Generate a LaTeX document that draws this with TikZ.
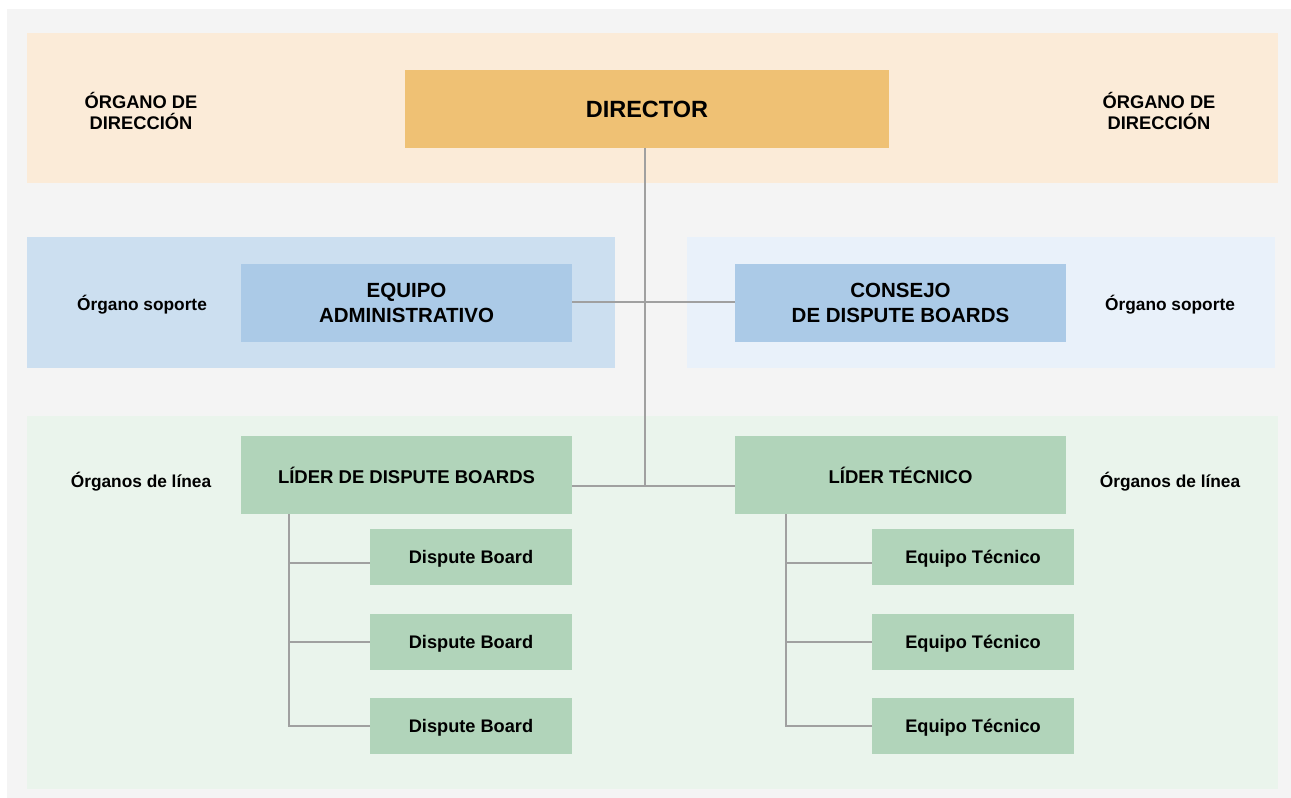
\documentclass[tikz,border=0pt]{standalone}
\usepackage{fontspec}
\setmainfont{Liberation Sans}
\definecolor{pagebg}{HTML}{F4F4F4}
\definecolor{bandorange}{HTML}{FBEBD8}
\definecolor{boxorange}{HTML}{EFC174}
\definecolor{bandblue}{HTML}{CCDFF0}
\definecolor{bandbluelight}{HTML}{E9F1FA}
\definecolor{boxblue}{HTML}{ABCAE7}
\definecolor{bandgreen}{HTML}{EAF4EC}
\definecolor{boxgreen}{HTML}{B1D4BA}
\definecolor{linkgray}{HTML}{A0A0A0}
\tikzset{
  unitbox/.style={inner sep=0pt, outer sep=0pt, align=center, text=black, font=\bfseries},
  bigbox/.style={unitbox, minimum width=331pt, minimum height=78pt},
  smallbox/.style={unitbox, fill=boxgreen, minimum width=202pt, minimum height=56pt, text depth=0pt, font=\fontsize{18.2}{21}\selectfont\bfseries},
  sidelabel/.style={align=center, inner sep=0pt, text=black},
  conn/.style={draw=linkgray, line width=2.7pt}
}
\begin{document}
\begin{tikzpicture}[x=1pt, y=-1pt]
\useasboundingbox (0,0) rectangle (1291,798);
% panels
\fill[white] (0,0) rectangle (1291,798);
\fill[pagebg] (7,9) rectangle (1291,798);
\fill[bandorange] (27,33) rectangle (1278,183);
\fill[bandblue] (27,237) rectangle (615,368);
\fill[bandbluelight] (687,237) rectangle (1275,368);
\fill[bandgreen] (27,416) rectangle (1278,789);

% side labels
\node[sidelabel, font=\fontsize{18.3}{21.5}\selectfont\bfseries] (ld1) at (141,111) {ÓRGANO DE\\DIRECCIÓN};
\node[sidelabel, font=\fontsize{18.3}{21.5}\selectfont\bfseries] (ld2) at (1159,111) {ÓRGANO DE\\DIRECCIÓN};
\node[sidelabel, font=\fontsize{17.3}{20}\selectfont\bfseries] (ls1) at (142,305) {Órgano soporte};
\node[sidelabel, font=\fontsize{17.3}{20}\selectfont\bfseries] (ls2) at (1170,305) {Órgano soporte};
\node[sidelabel, font=\fontsize{17.3}{20}\selectfont\bfseries] (ll1) at (141,482) {Órganos de línea};
\node[sidelabel, font=\fontsize{17.3}{20}\selectfont\bfseries] (ll2) at (1170,482) {Órganos de línea};

% boxes
\node[unitbox, fill=boxorange, minimum width=484pt, minimum height=78pt, text depth=0pt, font=\fontsize{23.5}{27}\selectfont\bfseries] (dir) at (647,109) {DIRECTOR};
\node[bigbox, fill=boxblue, font=\fontsize{20.5}{25}\selectfont\bfseries] (eq) at (406.5,303) {EQUIPO\\ADMINISTRATIVO};
\node[bigbox, fill=boxblue, font=\fontsize{20.5}{25}\selectfont\bfseries] (cons) at (900.5,303) {CONSEJO\\DE DISPUTE BOARDS};
\node[bigbox, fill=boxgreen, text depth=0pt, font=\fontsize{18.5}{22}\selectfont\bfseries] (ldb) at (406.5,475) {LÍDER DE DISPUTE BOARDS};
\node[bigbox, fill=boxgreen, text depth=0pt, font=\fontsize{18.5}{22}\selectfont\bfseries] (ltec) at (900.5,475) {LÍDER TÉCNICO};

\node[smallbox] (db1) at (471,557) {Dispute Board};
\node[smallbox] (db2) at (471,642) {Dispute Board};
\node[smallbox] (db3) at (471,726) {Dispute Board};
\node[smallbox] (et1) at (973,557) {Equipo Técnico};
\node[smallbox] (et2) at (973,642) {Equipo Técnico};
\node[smallbox] (et3) at (973,726) {Equipo Técnico};

% connectors
\coordinate (j1) at (645,302);
\coordinate (j2) at (645,486);
\coordinate (bl) at (289,600);
\coordinate (br) at (786,600);
\coordinate (hl1) at ([yshift=-6pt]db1.west);
\coordinate (hr1) at ([yshift=-6pt]et1.west);
\draw[conn] (dir.south -| j1) -- (j2);
\draw[conn] (eq.east |- j1) -- (cons.west |- j1);
\draw[conn] (ldb.east |- j2) -- (ltec.west |- j2);

\draw[conn] (ldb.south -| bl) -- (bl |- db3) -- (db3.west);
\draw[conn] (bl |- hl1) -- (hl1);
\draw[conn] (bl |- db2) -- (db2.west);

\draw[conn] (ltec.south -| br) -- (br |- et3) -- (et3.west);
\draw[conn] (br |- hr1) -- (hr1);
\draw[conn] (br |- et2) -- (et2.west);
\end{tikzpicture}
\end{document}
